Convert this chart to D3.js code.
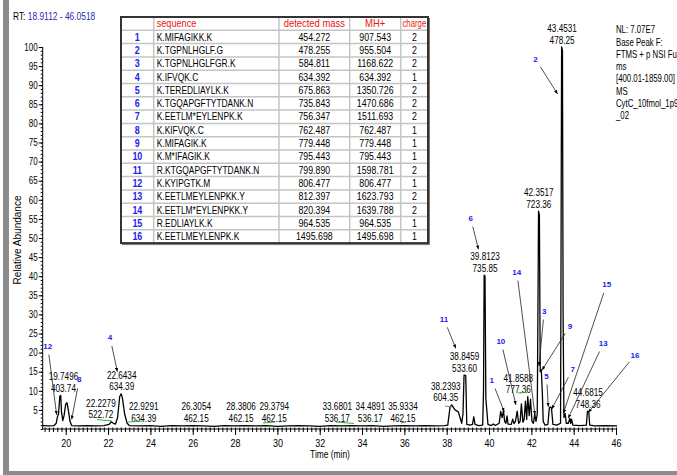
<!DOCTYPE html>
<html>
<head>
<meta charset="utf-8">
<script src="https://d3js.org/d3.v7.min.js"></script>
<style>
  body { margin: 0; background: white; }
  svg { display: block; font-family: "Liberation Sans", Arial, sans-serif; }
  .tick text { font-size: 10px; }
</style>
</head>
<body>
<svg id="chart" width="677" height="475"></svg>
<script>
// chromatogram trace (RT in min, relative abundance %)
var traceRt = [18.91, 19.2, 19.45, 19.55, 19.6, 19.66, 19.72, 19.76, 19.8, 19.86, 19.92, 20.0, 20.06, 20.12, 20.2, 20.28,
  20.6, 21.0, 21.4, 21.8, 22.05, 22.15, 22.25, 22.35, 22.45, 22.55, 22.62, 22.68, 22.78, 22.9, 23.0,
  23.5, 24.0, 24.5, 25.0, 25.5, 26.0, 26.5, 27.0, 27.5, 28.0, 28.5, 29.0, 29.5, 30.0, 30.5, 31.0, 31.5,
  32.0, 32.5, 33.0, 33.5, 34.0, 34.5, 35.0, 35.5, 36.0, 36.5, 37.0, 37.5, 37.9, 38.05,
  38.16, 38.24, 38.39, 38.55, 38.63, 38.71, 38.77, 38.82, 38.9, 38.95, 39.1, 39.22, 39.28, 39.34, 39.5, 39.7,
  39.74, 39.77, 39.81, 39.85, 39.95, 40.1, 40.2, 40.3, 40.48, 40.55, 40.62, 40.68, 40.74, 40.8, 40.85, 40.9,
  41.05, 41.12, 41.18, 41.25, 41.33, 41.4, 41.47, 41.53, 41.6, 41.66, 41.72, 41.78, 41.83, 41.9, 41.96, 42.03,
  42.1, 42.16, 42.22, 42.28, 42.31, 42.34, 42.38, 42.42, 42.47, 42.52, 42.56, 42.65, 42.78, 42.85, 42.9, 42.95,
  43.02, 43.2, 43.38, 43.41, 43.43, 43.47, 43.5, 43.54, 43.6, 43.65, 43.75, 43.82, 43.86, 43.9, 43.96, 44.3,
  44.6, 44.65, 44.71, 44.76, 45.0, 45.5, 46.05];
var traceAb = [0.9, 0.8, 0.9, 1.5, 3.0, 4.0, 8.6, 8.8, 4.5, 2.2, 3.5, 6.5, 6.9, 5.0, 2.0, 0.9,
  0.8, 0.9, 0.8, 0.9, 1.2, 1.9, 1.5, 1.3, 3.0, 8.5, 9.2, 8.0, 4.0, 1.5, 0.9,
  0.8, 0.9, 0.7, 0.9, 0.8, 0.9, 0.8, 0.7, 0.9, 0.8, 0.9, 0.8, 0.9, 0.7, 0.8, 0.9, 0.8,
  0.7, 0.9, 0.8, 0.9, 0.8, 0.9, 0.7, 0.8, 0.9, 0.8, 0.9, 0.8, 0.9, 1.0,
  5.8, 6.3, 5.0, 4.5, 3.0, 1.5, 4.0, 14.1, 14.0, 1.2, 1.0, 1.2, 3.2, 1.2, 0.9, 1.0,
  10.0, 40.3, 40.0, 8.0, 1.2, 0.9, 1.3, 0.9, 1.5, 4.6, 3.0, 4.8, 2.0, 1.5, 3.4, 1.3,
  1.2, 2.6, 1.4, 2.0, 4.7, 1.5, 2.0, 6.6, 1.8, 2.5, 7.3, 2.5, 8.5, 3.5, 7.8, 2.0,
  1.5, 3.9, 2.0, 4.0, 30.0, 57.0, 56.0, 15.0, 15.5, 9.5, 2.0, 1.0, 1.2, 5.5, 5.8, 5.5,
  1.2, 1.0, 1.5, 60.0, 100.0, 99.0, 30.0, 3.0, 4.0, 1.5, 1.5, 2.8, 1.5, 2.6, 1.0, 0.9,
  1.0, 4.7, 4.6, 1.0, 0.8, 0.9, 0.8];

// peak labels: retention time, m/z, height the label sits on
var labelRt = ["19.7496", "22.2279", "22.6434", "22.9291", "26.3054", "28.3806", "29.3794", "33.6801", "34.4891",
  "35.9334", "38.2393", "38.8459", "39.8123", "41.8588", "42.3517", "43.4531", "44.6815"];
var labelMz = ["403.74", "522.72", "634.39", "634.39", "462.15", "462.15", "462.15", "536.17", "536.17",
  "462.15", "604.35", "533.60", "735.85", "777.36", "723.36", "478.25", "748.36"];
var labelAb = [8.8, 1.9, 9.2, 1.0, 1.0, 1.0, 1.0, 1.0, 1.0, 1.0, 6.3, 14.1, 40.3, 8.5, 57.0, 100.0, 4.7];

// numbered peak markers (number position and arrow tip, in chart units)
var markerId = [1, 2, 3, 4, 5, 6, 7, 8, 9, 10, 11, 12, 13, 14, 15, 16];
var markerRt = [40.13, 42.20, 42.61, 22.09, 42.72, 39.13, 43.95, 20.64, 43.83, 40.56, 37.87, 19.15, 45.40, 41.31, 45.56, 46.90];
var markerAb = [12.8, 96.8, 31.0, 24.0, 14.0, 55.3, 15.6, 13.0, 27.0, 23.1, 28.8, 21.8, 22.4, 41.2, 37.9, 19.4];
var tipRt = [40.72, 43.24, 42.36, 22.44, 42.80, 39.50, 42.96, 20.28, 42.50, 41.27, 38.43, 19.57, 43.74, 42.17, 43.51, 44.69];
var tipAb = [4.5, 87.7, 16.5, 15.0, 5.8, 47.0, 5.2, 2.5, 15.4, 6.3, 21.1, 3.7, 2.8, 3.7, 4.1, 4.3];

// table
var sequences = ["K.MIFAGIKK.K", "K.TGPNLHGLF.G", "K.TGPNLHGLFGR.K", "K.IFVQK.C", "K.TEREDLIAYLK.K",
  "K.TGQAPGFTYTDANK.N", "K.EETLM*EYLENPK.K", "K.KIFVQK.C", "K.MIFAGIK.K", "K.M*IFAGIK.K",
  "R.KTGQAPGFTYTDANK.N", "K.KYIPGTK.M", "K.EETLMEYLENPKK.Y", "K.EETLM*EYLENPKK.Y", "R.EDLIAYLK.K", "K.EETLMEYLENPK.K"];
var detectedMass = ["454.272", "478.255", "584.811", "634.392", "675.863", "735.843", "756.347", "762.487",
  "779.448", "795.443", "799.890", "806.477", "812.397", "820.394", "964.535", "1495.698"];
var mhPlus = ["907.543", "955.504", "1168.622", "634.392", "1350.726", "1470.686", "1511.693", "762.487",
  "779.448", "795.443", "1598.781", "806.477", "1623.793", "1639.788", "964.535", "1495.698"];
var charges = [2, 2, 2, 1, 2, 2, 2, 1, 1, 1, 2, 1, 2, 2, 1, 1];
var headers = ["", "sequence", "detected mass", "MH+", "charge"];

var yTicks = d3.range(5, 101, 5);
var xTicks = d3.range(20, 47, 2);

var svg = d3.select("#chart");

// frame
svg.append("rect").attr("x", 3).attr("y", 0).attr("width", 6).attr("height", 475).attr("fill", "#8c8c8c");
svg.append("rect").attr("x", 3).attr("y", 471).attr("width", 674).attr("height", 4).attr("fill", "#8c8c8c");

// squeezed text helper
function txt(g, x, y, s, size, anchor, sx) {
  return g.append("text")
    .attr("transform", "translate(" + x + "," + y + ") scale(" + (sx || 0.82) + ",1)")
    .attr("text-anchor", anchor || "start")
    .style("font-size", size + "px")
    .text(s);
}

var x = d3.scaleLinear().domain([18.9112, 46.0518]).range([42.7, 617.1]);
var y = d3.scaleLinear().domain([0, 100]).range([429, 47]);

// axes
var gy = svg.append("g").attr("transform", "translate(42.7,0)");
gy.call(d3.axisLeft(y).tickValues(d3.range(0, 101, 1)).tickSize(2).tickFormat(""));
gy.select(".domain").remove();
var gy2 = svg.append("g").attr("transform", "translate(42.7,0)");
gy2.call(d3.axisLeft(y).tickValues(yTicks).tickSize(4).tickFormat(d3.format("d")));
gy2.select(".domain").attr("d", "M0," + y(100) + "V" + y(0));
gy2.selectAll(".tick text").attr("x", null).attr("transform", "translate(-5,0) scale(0.8,1)").style("font-size", "10px");

var gx = svg.append("g").attr("transform", "translate(0," + y(0) + ")");
gx.call(d3.axisBottom(x).tickValues(d3.range(19, 46.01, 0.2)).tickSize(3).tickFormat(""));
gx.selectAll(".tick line").attr("y1", -1.5);
gx.select(".domain").remove();
var gx2 = svg.append("g").attr("transform", "translate(0," + y(0) + ")");
gx2.call(d3.axisBottom(x).tickValues(xTicks).tickSize(6).tickPadding(3).tickFormat(d3.format("d")));
gx2.select(".domain").attr("d", "M" + x.range()[0] + ",0H" + x.range()[1]);
gx2.selectAll(".tick text").attr("y", null).attr("dy", null)
  .attr("transform", "translate(0,17.5) scale(0.85,1)").style("font-size", "10.5px");
svg.selectAll(".tick line, .domain").attr("stroke", "black");

txt(svg, 330, 458, "Time (min)", 10.5, "middle", 0.8);
svg.append("text").attr("transform", "translate(21,240) rotate(-90)")
  .attr("text-anchor", "middle").style("font-size", "10px").text("Relative Abundance");

// RT header
var rt = svg.append("text").attr("transform", "translate(13,20) scale(0.8,1)").style("font-size", "10.5px");
rt.append("tspan").text("RT: ");
rt.append("tspan").attr("fill", "#2b2bb0").text("18.9112 - 46.0518");

// right info block
var info = ["NL: 7.07E7", "Base Peak F:", "FTMS + p NSI Full", "ms", "[400.01-1859.00]", "MS", "CytC_10fmol_1p9", "_02"];
info.forEach(function(s, i) { txt(svg, 616, 32.5 + i * 12.2 + (i > 0 ? 1 : 0), s, 10, "start", 0.78); });

// trace
var pts = traceRt.map(function(r, i) { return [r, traceAb[i]]; });
svg.append("path").datum(pts)
  .attr("fill", "none").attr("stroke", "black").attr("stroke-width", 1.3).attr("stroke-linejoin", "round")
  .attr("d", d3.line().x(function(d) { return x(d[0]); }).y(function(d) { return y(d[1]); }));

// peak labels (shifted sideways where the original moved them apart)
var nudge = { "19.7496": 3, "22.2279": -12, "22.9291": 16, "26.3054": -3, "28.3806": -2, "29.3794": 10,
  "33.6801": -18, "34.4891": -2, "38.2393": -6, "41.8588": -10 };
var green = { "22.2279": [97, 112, 419.5, 421], "22.9291": [128, 143, 422, 421], "29.3794": [263, 275, 423, 422],
  "33.6801": [336, 354, 422, 423.5], "35.9334": [401, 406, 423, 422], "38.2393": [445, 452, 406, 407], "41.8588": [518, 527, 393, 392.5] };
labelRt.forEach(function(r, i) {
  var cx = x(+r) + (nudge[r] || 0);
  var by = y(labelAb[i]) - 3.5;
  txt(svg, cx, by - 11.5, r, 10.5, "middle", 0.78);
  txt(svg, cx, by, labelMz[i], 10.5, "middle", 0.78);
  if (green[r]) {
    var g = green[r];
    svg.append("line").attr("x1", g[0]).attr("x2", g[1]).attr("y1", g[2]).attr("y2", g[3])
      .attr("stroke", "#3cb043").attr("stroke-width", 1.2);
  }
});

// markers with arrows
svg.append("defs").append("marker").attr("id", "ah").attr("viewBox", "0 0 10 10")
  .attr("refX", 10).attr("refY", 5).attr("markerWidth", 5).attr("markerHeight", 5).attr("orient", "auto")
  .append("path").attr("d", "M0,1L10,5L0,9z").attr("fill", "black");
markerId.forEach(function(id, i) {
  var lx = x(markerRt[i]), ly = y(markerAb[i]);
  var tx = x(tipRt[i]), ty = y(tipAb[i]);
  var dx = tx - lx, dy = ty - ly, len = Math.sqrt(dx * dx + dy * dy);
  svg.append("line").attr("x1", lx + dx / len * 9).attr("y1", ly + dy / len * 9)
    .attr("x2", tx).attr("y2", ty).attr("stroke", "#222").attr("stroke-width", 0.8)
    .attr("marker-end", "url(#ah)");
  svg.append("text").attr("x", lx).attr("y", ly + 3).attr("text-anchor", "middle")
    .attr("fill", "#2020f0").style("font-size", "8px").style("font-weight", "bold").text(id);
});

// table
var colX = [121, 153.7, 279, 349.7, 400.7, 428];
var rowH = 13.3, tblTop = 17;
var tbl = svg.append("g");
tbl.append("rect").attr("x", colX[0]).attr("y", tblTop).attr("width", colX[5] - colX[0]).attr("height", rowH * 17)
  .attr("fill", "white");
for (var r = 1; r < 17; r++) {
  tbl.append("line").attr("x1", colX[0]).attr("x2", colX[5]).attr("y1", tblTop + r * rowH).attr("y2", tblTop + r * rowH)
    .attr("stroke", "#c4c4c4").attr("stroke-width", 1.5);
}
for (var c = 1; c < 5; c++) {
  tbl.append("line").attr("x1", colX[c]).attr("x2", colX[c]).attr("y1", tblTop).attr("y2", tblTop + 17 * rowH)
    .attr("stroke", "#c4c4c4").attr("stroke-width", 1.5);
}
tbl.append("rect").attr("x", colX[0]).attr("y", tblTop).attr("width", colX[5] - colX[0]).attr("height", rowH * 17)
  .attr("fill", "none").attr("stroke", "#333").attr("stroke-width", 2);
tbl.append("line").attr("x1", colX[5] + 1.5).attr("x2", colX[5] + 1.5).attr("y1", tblTop + 1).attr("y2", tblTop + 17 * rowH + 1.5)
  .attr("stroke", "#777").attr("stroke-width", 1);
tbl.append("line").attr("x1", colX[0] + 1).attr("x2", colX[5] + 1.5).attr("y1", tblTop + 17 * rowH + 1.5).attr("y2", tblTop + 17 * rowH + 1.5)
  .attr("stroke", "#777").attr("stroke-width", 1);

var headScale = [0, 0.87, 0.9, 0.9, 0.74];
headers.forEach(function(h, c) {
  if (!h) return;
  var hx = c === 1 ? colX[1] + 3 : (colX[c] + colX[c + 1]) / 2;
  txt(tbl, hx, tblTop + 10, h, 10.5, c === 1 ? "start" : "middle", headScale[c]).attr("fill", "#ee1111");
});
sequences.forEach(function(s, i) {
  var by = tblTop + (i + 1) * rowH + 10.3;
  txt(tbl, (colX[0] + colX[1]) / 2, by, markerId[i], 10.5, "middle", 0.85).attr("fill", "#2222ee").style("font-weight", "bold");
  txt(tbl, colX[1] + 3, by, s, 10.5, "start", 0.8);
  txt(tbl, (colX[2] + colX[3]) / 2, by, detectedMass[i], 10.5, "middle", 0.84);
  txt(tbl, (colX[3] + colX[4]) / 2, by, mhPlus[i], 10.5, "middle", 0.84);
  txt(tbl, (colX[4] + colX[5]) / 2, by, charges[i], 10.5, "middle", 0.84);
});
</script>
</body>
</html>
